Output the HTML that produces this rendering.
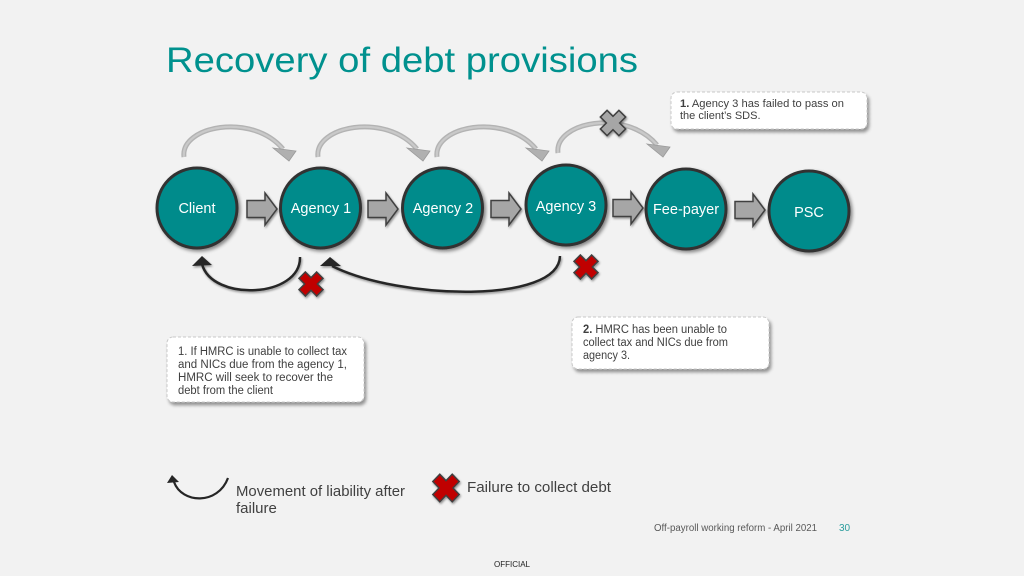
<!DOCTYPE html>
<html><head><meta charset="utf-8"><style>
html,body{margin:0;padding:0;background:#f2f2f2;}
svg{display:block;font-family:"Liberation Sans",Arial,sans-serif;}
</style></head><body>
<svg width="1024" height="576" viewBox="0 0 1024 576" xmlns="http://www.w3.org/2000/svg">
<defs>
<filter id="sh" x="-30%" y="-30%" width="160%" height="160%"><feDropShadow dx="2" dy="2" stdDeviation="1.8" flood-color="#000" flood-opacity="0.45"/></filter>
<filter id="sh2" x="-10%" y="-20%" width="125%" height="150%"><feDropShadow dx="2" dy="3" stdDeviation="1.6" flood-color="#000" flood-opacity="0.4"/></filter>
<filter id="sh3" x="-30%" y="-30%" width="160%" height="160%"><feDropShadow dx="1" dy="1.5" stdDeviation="1" flood-color="#000" flood-opacity="0.4"/></filter>
<polygon id="xs" points="-4.5,-12.5 4.5,-12.5 4.5,-4.5 12.5,-4.5 12.5,4.5 4.5,4.5 4.5,12.5 -4.5,12.5 -4.5,4.5 -12.5,4.5 -12.5,-4.5 -4.5,-4.5" transform="rotate(45)"/>
<polygon id="ba" points="0,-8.5 18,-8.5 18,-16 30,0 18,16 18,8.5 0,8.5"/>
<g id="arc">
<path d="M184,157 C180,126 252,112 283,149" fill="none" stroke="#b3b3b3" stroke-width="5"/>
<path d="M184,157 C180,126 252,112 283,149" fill="none" stroke="#c9c9c9" stroke-width="2.2"/>
<polygon points="273,148 296,151 289,161" fill="#b0b0b0" stroke="#9a9a9a" stroke-width="0.8"/>
</g>
</defs>

<rect width="1024" height="576" fill="#f2f2f2"/>

<text x="166" y="72" font-size="35" fill="#00918e" textLength="472" lengthAdjust="spacingAndGlyphs">Recovery of debt provisions</text>

<!-- grey top arcs -->
<use href="#arc"/>
<use href="#arc" transform="translate(134,0)"/>
<use href="#arc" transform="translate(253,0)"/>
<use href="#arc" transform="translate(374,-4)"/>
<!-- grey X -->
<g transform="translate(613,123)" filter="url(#sh3)"><use href="#xs" fill="#a6a6a6" stroke="#404040" stroke-width="1.5" transform="scale(1.05)"/></g>

<!-- circles -->
<g filter="url(#sh)" fill="#008b8b" stroke="#333" stroke-width="3">
<circle cx="197" cy="208" r="40"/>
<circle cx="320.5" cy="208" r="40"/>
<circle cx="442.5" cy="208" r="40"/>
<circle cx="566" cy="205" r="40"/>
<circle cx="686" cy="209" r="40"/>
<circle cx="809" cy="211" r="40"/>
</g>
<g fill="#fff" font-size="14.5" text-anchor="middle">
<text x="197" y="213">Client</text>
<text x="321" y="213">Agency 1</text>
<text x="443" y="213">Agency 2</text>
<text x="566" y="211">Agency 3</text>
<text x="686" y="214">Fee-payer</text>
<text x="809" y="217">PSC</text>
</g>

<!-- block arrows -->
<g fill="#a6a6a6" stroke="#404040" stroke-width="1.5" filter="url(#sh3)">
<use href="#ba" transform="translate(247,209)"/>
<use href="#ba" transform="translate(368,209)"/>
<use href="#ba" transform="translate(491,209)"/>
<use href="#ba" transform="translate(613,208)"/>
<use href="#ba" transform="translate(735,210)"/>
</g>

<!-- bottom black curves -->
<g filter="url(#sh3)">
<path d="M300,257 C301,298 212,302 202,264" fill="none" stroke="#262626" stroke-width="2.5"/>
<polygon points="192,266 202,256 212,265" fill="#262626"/>
<path d="M560,256 C559,304 400,300 332,266" fill="none" stroke="#262626" stroke-width="2.5"/>
<polygon points="320,266 330,257 341,266" fill="#262626"/>
</g>

<!-- red X -->
<g filter="url(#sh3)">
<use href="#xs" fill="#c00000" stroke="#404040" stroke-width="1.5" transform="translate(311,284)"/>
<use href="#xs" fill="#c00000" stroke="#404040" stroke-width="1.5" transform="translate(586,267)"/>
</g>

<!-- callouts -->
<g filter="url(#sh2)">
<rect x="671" y="92" width="196" height="37" rx="6" fill="#fff" stroke="#c8c8c8" stroke-dasharray="3,2"/>
<rect x="572" y="317" width="197" height="52" rx="6" fill="#fff" stroke="#c8c8c8" stroke-dasharray="3,2"/>
<rect x="167" y="337" width="197" height="65" rx="6" fill="#fff" stroke="#c8c8c8" stroke-dasharray="3,2"/>
</g>
<g fill="#404040">
<text x="680" y="107" font-size="11" textLength="164" lengthAdjust="spacingAndGlyphs"><tspan font-weight="bold">1.</tspan> Agency 3 has failed to pass on</text>
<text x="680" y="119" font-size="11">the client’s SDS.</text>

<text x="583" y="333" font-size="11.5" textLength="144" lengthAdjust="spacingAndGlyphs"><tspan font-weight="bold">2.</tspan> HMRC  has been unable to</text>
<text x="583" y="346" font-size="11.5" textLength="145" lengthAdjust="spacingAndGlyphs">collect tax and NICs  due from</text>
<text x="583" y="359" font-size="11.5" textLength="47" lengthAdjust="spacingAndGlyphs">agency 3.</text>

<text x="178" y="355" font-size="11.5" textLength="169" lengthAdjust="spacingAndGlyphs">1. If HMRC  is unable to collect tax</text>
<text x="178" y="368" font-size="11.5" textLength="169" lengthAdjust="spacingAndGlyphs">and NICs  due from the agency 1,</text>
<text x="178" y="381" font-size="11.5" textLength="155" lengthAdjust="spacingAndGlyphs">HMRC  will seek to recover the</text>
<text x="178" y="394" font-size="11.5" textLength="95" lengthAdjust="spacingAndGlyphs">debt from the client</text>
</g>

<!-- legend -->
<path d="M174,482 C182,504 218,505 228,478" fill="none" stroke="#262626" stroke-width="2.2"/>
<polygon points="167,483 172,475 179,482" fill="#262626"/>
<text x="236" y="496" font-size="15" fill="#404040" textLength="169" lengthAdjust="spacingAndGlyphs">Movement of liability after</text>
<text x="236" y="513" font-size="15" fill="#404040">failure</text>
<g filter="url(#sh3)"><use href="#xs" fill="#c00000" stroke="#404040" stroke-width="1.3" transform="translate(446,488) scale(1.1,1.15)"/></g>
<text x="467" y="492" font-size="15" fill="#404040" textLength="144" lengthAdjust="spacingAndGlyphs">Failure to collect debt</text>

<!-- footer -->
<text x="654" y="531" font-size="10" fill="#595959" textLength="163" lengthAdjust="spacingAndGlyphs">Off-payroll working reform - April 2021</text>
<text x="839" y="531" font-size="10" fill="#2a9d9d">30</text>
<text x="512" y="567" font-size="8" fill="#222" text-anchor="middle">OFFICIAL</text>
</svg>
</body></html>
